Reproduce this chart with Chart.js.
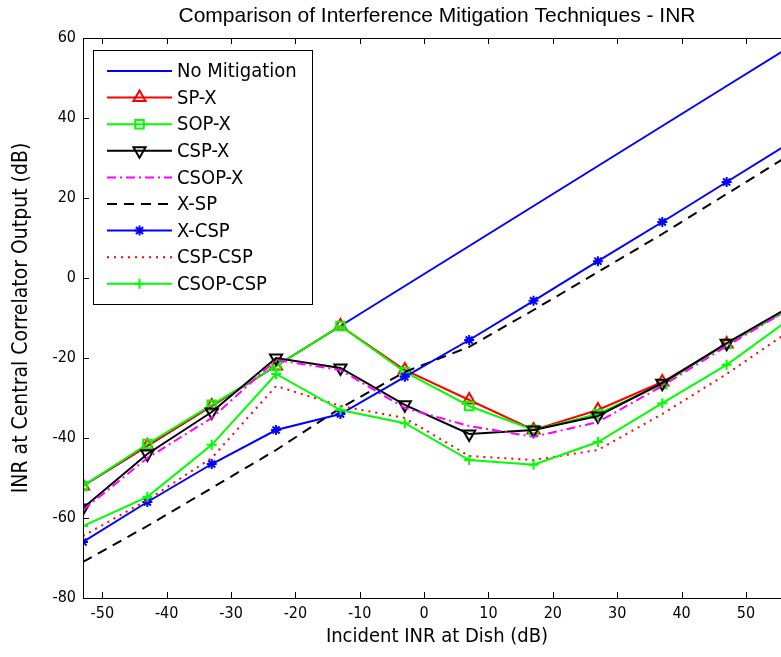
<!DOCTYPE html>
<html>
<head>
<meta charset="utf-8">
<script src="https://cdn.jsdelivr.net/npm/chart.js@4.4.0/dist/chart.umd.min.js"></script>
<style>
  html, body { margin: 0; padding: 0; background: #fff; overflow: hidden; }
  #wrap { width: 800px; height: 657px; }
</style>
</head>
<body>
<div id="wrap"><canvas id="myChart" width="800" height="657"></canvas></div>
<script>
// incident INR at the dish (dB)
var inr = [-53, -43, -33, -23, -13, -3, 7, 17, 27, 37, 47, 57]

var noMitigation = [-52, -42, -32, -22, -12, -2, 8, 18, 28, 38, 48, 58]
var spX      = [-52, -42, -32, -22, -12, -23, -30.5, -38, -33, -26, -16.5, -7.5]
var sopX     = [-52, -41.5, -31.7, -22, -12, -23.5, -32, -38, -34, -26.5, -16.5, -7.5]
var cspX     = [-57.5, -44, -33.5, -20, -22.5, -31.7, -39, -38, -34.5, -26.3, -16.3, -7]
var csopX    = [-58, -45, -35, -20.5, -23, -32.5, -37, -39.7, -36, -27, -17, -7.5]
var xSP      = [-71, -62, -52.5, -43, -32.5, -23.5, -17.2, -8, 1.5, 11, 21, 31]
var xCSP     = [-66, -56, -46.5, -38, -34, -24.7, -15.5, -5.7, 4.2, 14, 24, 34]
var cspCSP   = [-64.5, -55.5, -45, -27, -32, -35, -44.5, -45.5, -43, -34, -24, -13]
var csopCSP  = [-62, -54.7, -41.7, -24, -33, -36.3, -45.5, -46.7, -41, -31.3, -21.7, -10]

var xTicks = [-50, -40, -30, -20, -10, 0, 10, 20, 30, 40, 50]
var yTicks = [-80, -60, -40, -20, 0, 20, 40, 60]

var chartTitle = 'Comparison of Interference Mitigation Techniques - INR'

var narrow = "'Liberation Sans Narrow', 'DejaVu Sans Condensed', Arial, sans-serif"
var plain = "'Liberation Sans', Arial, sans-serif"

function pts(ys) {
    return inr.map(function (x, i) { return { x: x, y: ys[i] } })
}

// label, values, colour, dash, marker, rotation
var series = [
    ['No Mitigation', noMitigation, '#0000ff', [], false, 0],
    ['SP-X', spX, '#ff0000', [], 'triangle', 0],
    ['SOP-X', sopX, '#00ff00', [], 'rect', 0],
    ['CSP-X', cspX, '#000000', [], 'triangle', 180],
    ['CSOP-X', csopX, '#ff00ff', [9, 4, 2, 4], false, 0],
    ['X-SP', xSP, '#000000', [10, 7], false, 0],
    ['X-CSP', xCSP, '#0000ff', [], 'star', 0],
    ['CSP-CSP', cspCSP, '#ff0000', [2, 5], false, 0],
    ['CSOP-CSP', csopCSP, '#00ff00', [], 'cross', 0]
]

var datasets = series.map(function (s, i) {
    return {
        label: s[0],
        data: pts(s[1]),
        borderColor: s[2],
        borderWidth: 2,
        borderDash: s[3],
        pointStyle: s[4],
        pointRotation: s[5],
        pointRadius: s[4] ? (s[4] == 'rect' ? 6 : (s[4] == 'star' || s[4] == 'cross' ? 5 : 7)) : 0,
        pointBorderColor: s[2],
        pointBorderWidth: 2,
        pointBackgroundColor: 'rgba(0,0,0,0)',
        fill: false,
        tension: 0,
        order: -i
    }
})

// box + inward ticks like the original figure
var boxPlugin = {
    id: 'box',
    afterDatasetsDraw: function (chart) {
        var ctx = chart.ctx
        var a = chart.chartArea
        var xs = chart.scales.x
        var ys = chart.scales.y
        ctx.save()
        ctx.strokeStyle = '#000'
        ctx.lineWidth = 1
        ctx.strokeRect(Math.round(a.left) + 0.5, Math.round(a.top) + 0.5, Math.round(a.right - a.left), Math.round(a.bottom - a.top))
        ctx.beginPath()
        xTicks.forEach(function (v) {
            var px = Math.round(xs.getPixelForValue(v)) + 0.5
            ctx.moveTo(px, a.bottom); ctx.lineTo(px, a.bottom - 6)
            ctx.moveTo(px, a.top); ctx.lineTo(px, a.top + 6)
        })
        yTicks.forEach(function (v) {
            var py = Math.round(ys.getPixelForValue(v)) + 0.5
            ctx.moveTo(a.left, py); ctx.lineTo(a.left + 6, py)
            ctx.moveTo(a.right, py); ctx.lineTo(a.right - 6, py)
        })
        ctx.stroke()

        // title centred over the plot box
        ctx.fillStyle = '#000'
        ctx.font = '21px ' + plain
        ctx.textAlign = 'center'
        ctx.textBaseline = 'middle'
        ctx.fillText(chartTitle, (a.left + a.right) / 2, 16)
        ctx.restore()
    },
    afterDraw: function (chart) {
        // legend box in the upper left
        var ctx = chart.ctx
        var bx = 93, by = 50, bw = 219, bh = 254
        ctx.save()
        ctx.fillStyle = '#fff'
        ctx.fillRect(bx, by, bw, bh)
        ctx.strokeStyle = '#000'
        ctx.lineWidth = 1
        ctx.strokeRect(bx + 0.5, by + 0.5, bw, bh)
        ctx.font = '20px ' + narrow
        ctx.textBaseline = 'middle'
        chart.data.datasets.forEach(function (d, i) {
            var y = 71 + i * 26.6
            ctx.save()
            ctx.strokeStyle = d.borderColor
            ctx.lineWidth = 2
            ctx.setLineDash(d.borderDash)
            ctx.beginPath()
            ctx.moveTo(107, y); ctx.lineTo(172, y)
            ctx.stroke()
            ctx.restore()
            if (d.pointStyle) {
                ctx.save()
                ctx.strokeStyle = d.borderColor
                ctx.fillStyle = 'rgba(0,0,0,0)'
                ctx.lineWidth = 2
                Chart.helpers.drawPoint(ctx, { pointStyle: d.pointStyle, rotation: d.pointRotation, radius: d.pointRadius, borderWidth: 2 }, 139.5, y)
                ctx.restore()
            }
            ctx.fillStyle = '#000'
            ctx.fillText(d.label, 177, y + 1)
        })
        ctx.restore()
    }
}

const config = {
    type: 'line',
    data: { datasets: datasets },
    options: {
        responsive: false,
        animation: false,
        layout: { padding: { left: 0, right: 7, top: 38, bottom: 0 } },
        plugins: {
            legend: { display: false },
            tooltip: { enabled: false },
            title: { display: false }
        },
        scales: {
            x: {
                type: 'linear',
                min: -53,
                max: 57,
                afterBuildTicks: function (s) { s.ticks = xTicks.map(function (v) { return { value: v } }) },
                afterFit: function (s) { s.height = 59 },
                grid: { display: false, drawTicks: false },
                border: { display: false },
                ticks: { color: '#000', padding: 6, maxRotation: 0, font: { family: narrow, size: 16 } },
                title: {
                    display: true,
                    text: 'Incident INR at Dish (dB)',
                    color: '#000',
                    font: { family: narrow, size: 20 },
                    padding: { top: 0, bottom: 8 }
                }
            },
            y: {
                type: 'linear',
                min: -80,
                max: 60,
                afterBuildTicks: function (s) { s.ticks = yTicks.map(function (v) { return { value: v } }) },
                afterFit: function (s) { s.width = 83 },
                grid: { display: false, drawTicks: false },
                border: { display: false },
                ticks: { color: '#000', padding: 7, font: { family: narrow, size: 16 } },
                title: {
                    display: true,
                    text: 'INR at Central Correlator Output (dB)',
                    color: '#000',
                    font: { family: narrow, size: 21 },
                    padding: { top: 9, bottom: 0 }
                }
            }
        }
    },
    plugins: [boxPlugin]
}

const myChart = new Chart(document.getElementById('myChart'), config)
</script>
</body>
</html>
